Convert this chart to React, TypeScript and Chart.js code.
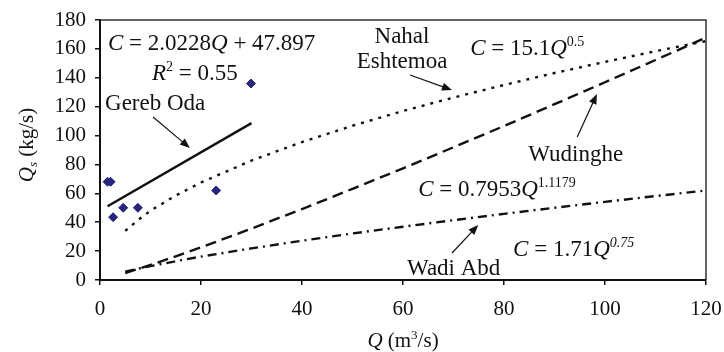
import React, { useEffect, useRef } from 'react';
import { Chart, registerables } from 'chart.js';

Chart.register(...registerables);

const xTicks = [0, 20, 40, 60, 80, 100, 120];
const yTicks = [0, 20, 40, 60, 80, 100, 120, 140, 160, 180];

const gerebQ = [1.5, 2.1, 2.6, 4.6, 7.5, 23, 29.9];
const gerebC = [68, 68, 43.5, 50, 50, 62, 136];

const gerebFitQ = [1.5, 30];
const gerebFitC = [51, 108.6];

const curveQ = [5, 7.5, 10, 15, 20, 30, 40, 50, 60, 70, 80, 90, 100, 110, 120];
const nahalC = [34, 41.4, 48, 58.5, 67.5, 82.7, 95.5, 106.8, 117, 126.3, 135, 143.3, 151, 158.4, 165.4];
const wudingheC = [4.8, 7.6, 10.4, 16.4, 22.6, 35.6, 49.1, 63.1, 77.3, 91.9, 106.6, 121.7, 136.9, 152.3, 167.8];
const wadiAbdC = [5.7, 7.8, 9.6, 13.0, 16.2, 21.9, 27.2, 32.2, 36.9, 41.4, 45.8, 50, 54.1, 58.1, 62];

const FAMILY = '"Liberation Serif", "Times New Roman", serif';

type Seg = { t: string; i?: boolean; sup?: boolean; sub?: boolean };

function drawRich(ctx: CanvasRenderingContext2D, segs: Seg[], x: number, y: number, size: number, align: 'left' | 'center' = 'left') {
  const fontOf = (s: Seg) => `${s.i ? 'italic ' : ''}${s.sup || s.sub ? Math.round(size * 0.62) : size}px ${FAMILY}`;
  const widths = segs.map((s) => {
    ctx.font = fontOf(s);
    return ctx.measureText(s.t).width;
  });
  const total = widths.reduce((a, b) => a + b, 0);
  let cx = align === 'center' ? x - total / 2 : x;
  ctx.textBaseline = 'alphabetic';
  ctx.textAlign = 'left';
  const base = y + size * 0.33;
  segs.forEach((s, k) => {
    ctx.font = fontOf(s);
    let dy = 0;
    if (s.sup) dy = -size * 0.38;
    if (s.sub) dy = size * 0.2;
    ctx.fillText(s.t, cx, base + dy);
    cx += widths[k];
  });
}

function arrow(ctx: CanvasRenderingContext2D, x1: number, y1: number, x2: number, y2: number) {
  const ang = Math.atan2(y2 - y1, x2 - x1);
  const L = 10;
  const W = 4;
  ctx.beginPath();
  ctx.moveTo(x1, y1);
  ctx.lineTo(x2 - Math.cos(ang) * L * 0.8, y2 - Math.sin(ang) * L * 0.8);
  ctx.lineWidth = 1.2;
  ctx.strokeStyle = '#111';
  ctx.stroke();
  ctx.beginPath();
  ctx.moveTo(x2, y2);
  ctx.lineTo(x2 - Math.cos(ang) * L - Math.sin(ang) * W, y2 - Math.sin(ang) * L + Math.cos(ang) * W);
  ctx.lineTo(x2 - Math.cos(ang) * L + Math.sin(ang) * W, y2 - Math.sin(ang) * L - Math.cos(ang) * W);
  ctx.closePath();
  ctx.fillStyle = '#111';
  ctx.fill();
}

const annotationPlugin = {
  id: 'annotations',
  afterDraw(chart: any) {
    const ctx: CanvasRenderingContext2D = chart.ctx;
    const xs = chart.scales.x;
    const ys = chart.scales.y;
    const X = (v: number) => xs.getPixelForValue(v);
    const Y = (v: number) => ys.getPixelForValue(v);
    const a = chart.chartArea;
    ctx.save();
    // box top & right
    ctx.strokeStyle = '#333';
    ctx.lineWidth = 1.5;
    ctx.beginPath();
    ctx.moveTo(a.left, a.top);
    ctx.lineTo(a.right, a.top);
    ctx.lineTo(a.right, a.bottom);
    ctx.stroke();

    ctx.fillStyle = '#111';
    const S = 23;
    drawRich(ctx, [{ t: 'C', i: true }, { t: ' = 2.0228' }, { t: 'Q', i: true }, { t: ' + 47.897' }], X(1.58), Y(164.8), S);
    drawRich(ctx, [{ t: 'R', i: true }, { t: '2', sup: true }, { t: ' = 0.55' }], X(10.3), Y(144), S);
    drawRich(ctx, [{ t: 'Gereb Oda' }], X(1.0), Y(123), S);
    arrow(ctx, X(10.5), Y(112.8), X(17.8), Y(91.4));

    ctx.fillStyle = '#111';
    drawRich(ctx, [{ t: 'Nahal' }], X(59.8), Y(169), S, 'center');
    drawRich(ctx, [{ t: 'Eshtemoa' }], X(59.8), Y(152.3), S, 'center');
    arrow(ctx, X(61.4), Y(141.9), X(69.7), Y(131.5));

    ctx.fillStyle = '#111';
    drawRich(ctx, [{ t: 'C', i: true }, { t: ' = 15.1' }, { t: 'Q', i: true }, { t: '0.5', sup: true }], X(73.3), Y(161.3), S);

    drawRich(ctx, [{ t: 'Wudinghe' }], X(84.8), Y(87.9), S);
    arrow(ctx, X(94.5), Y(99), X(98.4), Y(128.8));

    ctx.fillStyle = '#111';
    drawRich(ctx, [{ t: 'C', i: true }, { t: ' = 0.7953' }, { t: 'Q', i: true }, { t: '1.1179', sup: true }], X(63), Y(63.7), S);

    drawRich(ctx, [{ t: 'Wadi Abd' }], X(60.8), Y(9), S);
    arrow(ctx, X(69.7), Y(18.7), X(74.9), Y(38.1));

    ctx.fillStyle = '#111';
    drawRich(ctx, [{ t: 'C', i: true }, { t: ' = 1.71' }, { t: 'Q', i: true }, { t: '0.75', sup: true, i: true }], X(81.8), Y(22.2), S);

    // axis titles
    drawRich(ctx, [{ t: 'Q', i: true }, { t: ' (m' }, { t: '3', sup: true }, { t: '/s)' }], (a.left + a.right) / 2, 340, 21, 'center');
    ctx.save();
    ctx.translate(26, 145);
    ctx.rotate(-Math.PI / 2);
    drawRich(ctx, [{ t: 'Q', i: true }, { t: 's', i: true, sub: true }, { t: ' (kg/s)' }], 0, 0, 21, 'center');
    ctx.restore();

    ctx.restore();
  },
};

export default function App() {
  const ref = useRef<HTMLCanvasElement | null>(null);
  useEffect(() => {
    if (!ref.current) return;
    const pts = (qs: number[], cs: number[]) => qs.map((q, k) => ({ x: q, y: cs[k] }));
    const lineBase = {
      type: 'line' as const,
      showLine: true,
      pointRadius: 0,
      borderColor: '#111',
      borderWidth: 2.4,
      fill: false,
      tension: 0,
    };
    const chart = new Chart(ref.current, {
      type: 'scatter',
      data: {
        datasets: [
          {
            label: 'Gereb Oda data',
            data: pts(gerebQ, gerebC),
            pointStyle: 'rectRot',
            pointRadius: 4.5,
            backgroundColor: '#26267e',
            borderColor: '#26267e',
            showLine: false,
          } as any,
          { ...lineBase, label: 'Gereb Oda fit', data: pts(gerebFitQ, gerebFitC), borderWidth: 2.4 } as any,
          { ...lineBase, label: 'Nahal Eshtemoa', data: pts(curveQ, nahalC), borderDash: [3, 6] } as any,
          { ...lineBase, label: 'Wudinghe', data: pts(curveQ, wudingheC), borderDash: [11, 6] } as any,
          { ...lineBase, label: 'Wadi Abd', data: pts(curveQ, wadiAbdC), borderDash: [9, 5, 2, 5] } as any,
        ],
      },
      options: {
        animation: false,
        responsive: false,
        maintainAspectRatio: false,
        devicePixelRatio: 1,
        layout: { padding: { left: 0, right: 18, top: 20, bottom: 0 } },
        plugins: { legend: { display: false }, tooltip: { enabled: false } },
        scales: {
          x: {
            type: 'linear',
            min: 0,
            max: 120,
            afterBuildTicks: (s: any) => {
              s.ticks = xTicks.map((v) => ({ value: v }));
            },
            afterFit: (s: any) => {
              s.height = 72;
              s.paddingLeft = 0;
              s.paddingRight = 0;
            },
            ticks: { font: { family: FAMILY, size: 21 }, color: '#111', padding: 12, maxRotation: 0 },
            grid: { drawOnChartArea: false, drawTicks: true, tickLength: 5, color: '#111', lineWidth: 1.5 },
            border: { display: true, color: '#111', width: 2 },
          },
          y: {
            type: 'linear',
            min: 0,
            max: 180,
            afterBuildTicks: (s: any) => {
              s.ticks = yTicks.map((v) => ({ value: v }));
            },
            afterFit: (s: any) => {
              s.width = 100;
              s.paddingTop = 0;
              s.paddingBottom = 0;
            },
            ticks: { font: { family: FAMILY, size: 21 }, color: '#111', padding: 9 },
            grid: { drawOnChartArea: false, drawTicks: true, tickLength: 5, color: '#111', lineWidth: 1.5 },
            border: { display: true, color: '#111', width: 2 },
          },
        },
      } as any,
      plugins: [annotationPlugin],
    });
    return () => chart.destroy();
  }, []);
  return (
    <div style={{ position: 'fixed', left: 0, top: 0, width: 724, height: 352, background: '#fff' }}>
      <canvas ref={ref} width={724} height={352} style={{ width: 724, height: 352, display: 'block' }} />
    </div>
  );
}
